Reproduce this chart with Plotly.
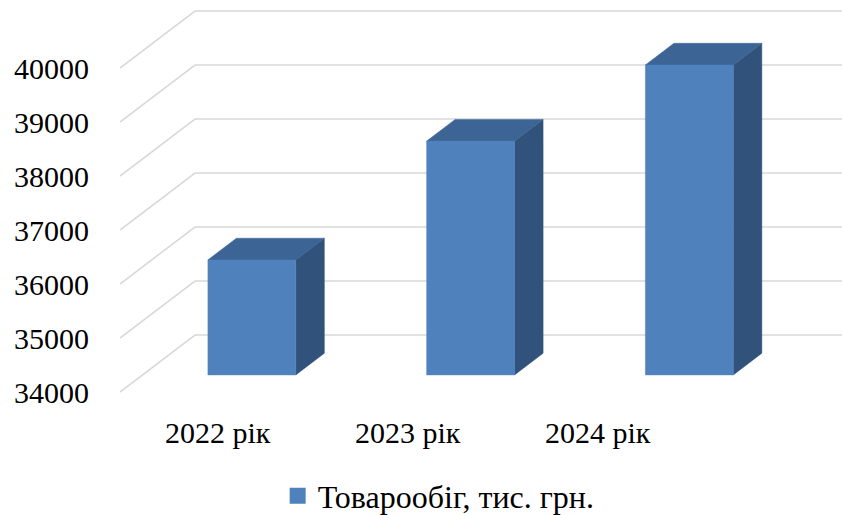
import plotly.graph_objects as go

# ---- data -------------------------------------------------------------
categories = ["2022 рік", "2023 рік", "2024 рік"]
turnover = [36130, 38330, 39740]
series_name = "Товарообіг, тис. грн."
y_ticks = [34000, 35000, 36000, 37000, 38000, 39000, 40000]
y_tick_labels = [str(t) for t in y_ticks]

# ---- 3D-look geometry (oblique projection) ----------------------------
W, H = 842, 515
PLOT_LEFT, PLOT_TOP, PLOT_BOTTOM = 120, 0, 400   # pixels
FLOOR_PX = 392                                   # pixel row of the base value on the front plane
PX_PER_UNIT_Y = 0.054                            # pixels per value unit
PX_PER_CAT = 218.75                              # pixels per category step
DEPTH_PX_X, DEPTH_PX_Y = 75, 57                  # wall depth in pixels
BASE = y_ticks[0]

DX = DEPTH_PX_X / PX_PER_CAT                     # depth shift in category units
DY = DEPTH_PX_Y / PX_PER_UNIT_Y                  # depth shift in value units
X_MIN = -0.5
X_MAX = X_MIN + (W - PLOT_LEFT) / PX_PER_CAT
Y_MAX = BASE + (FLOOR_PX - PLOT_TOP) / PX_PER_UNIT_Y
Y_MIN = BASE - (PLOT_BOTTOM - FLOOR_PX) / PX_PER_UNIT_Y

BAR_HALF = 0.201
D_FRONT, D_BACK = 0.30, 0.68

FRONT_C = "#4F81BD"
TOP_C = "#3C6494"
SIDE_C = "#31527A"
GRID_C = "#D9D9D9"
FONT = "Liberation Serif"


def proj(x, v, d):
    return x + d * DX, v + d * DY


fig = go.Figure()

# gridlines: side wall diagonal + back wall horizontal
gx, gy = [], []
for t in y_ticks:
    for x, d in [(X_MIN, 0), (X_MIN, 1), (X_MAX, 1)]:
        px, py = proj(x, t, d)
        gx.append(px)
        gy.append(py)
    gx.append(None)
    gy.append(None)
fig.add_trace(go.Scatter(x=gx, y=gy, mode="lines", line=dict(color=GRID_C, width=1.6),
                         hoverinfo="skip", showlegend=False))


def face(points, color):
    xs, ys = zip(*points)
    xs = list(xs) + [xs[0]]
    ys = list(ys) + [ys[0]]
    fig.add_trace(go.Scatter(x=xs, y=ys, mode="lines", fill="toself", fillcolor=color,
                             line=dict(color=color, width=0.5), hoverinfo="skip",
                             showlegend=False))


for i, v in enumerate(turnover):
    x0, x1 = i - BAR_HALF, i + BAR_HALF
    # right side
    face([proj(x1, BASE, D_FRONT), proj(x1, v, D_FRONT),
          proj(x1, v, D_BACK), proj(x1, BASE, D_BACK)], SIDE_C)
    # top
    face([proj(x0, v, D_FRONT), proj(x1, v, D_FRONT),
          proj(x1, v, D_BACK), proj(x0, v, D_BACK)], TOP_C)
    # front
    face([proj(x0, BASE, D_FRONT), proj(x1, BASE, D_FRONT),
          proj(x1, v, D_FRONT), proj(x0, v, D_FRONT)], FRONT_C)

# legend entry
fig.add_trace(go.Scatter(x=[None], y=[None], mode="markers", name=series_name,
                         marker=dict(symbol="square", size=16, color=FRONT_C),
                         showlegend=True))

# category labels along the front of the floor
LABEL_STEP, LABEL_SHIFT = 0.868, -0.053
for i, c in enumerate(categories):
    fig.add_annotation(x=LABEL_SHIFT + i * LABEL_STEP, xref="x",
                       y=(PLOT_BOTTOM - 432) / (PLOT_BOTTOM - PLOT_TOP), yref="paper",
                       text=c, showarrow=False, xanchor="center", yanchor="middle",
                       font=dict(family=FONT, size=30, color="black"))

fig.update_layout(
    width=W, height=H,
    margin=dict(l=PLOT_LEFT, r=0, t=PLOT_TOP, b=H - PLOT_BOTTOM, pad=0),
    paper_bgcolor="white", plot_bgcolor="white",
    font=dict(family=FONT, size=30, color="black"),
    xaxis=dict(range=[X_MIN, X_MAX], visible=False, fixedrange=True),
    yaxis=dict(range=[Y_MIN, Y_MAX], tickvals=y_ticks, ticktext=y_tick_labels,
               showgrid=False, zeroline=False, showline=False, ticks="",
               ticklabelstandoff=30, tickfont=dict(family=FONT, size=30, color="black"),
               fixedrange=True),
    showlegend=True,
    legend=dict(orientation="h", xref="container", yref="container",
                x=0.521, y=1 - 496 / H, xanchor="center", yanchor="middle",
                font=dict(family=FONT, size=32, color="black"),
                itemwidth=30, bgcolor="rgba(0,0,0,0)"),
)

fig.write_html("out.html")
